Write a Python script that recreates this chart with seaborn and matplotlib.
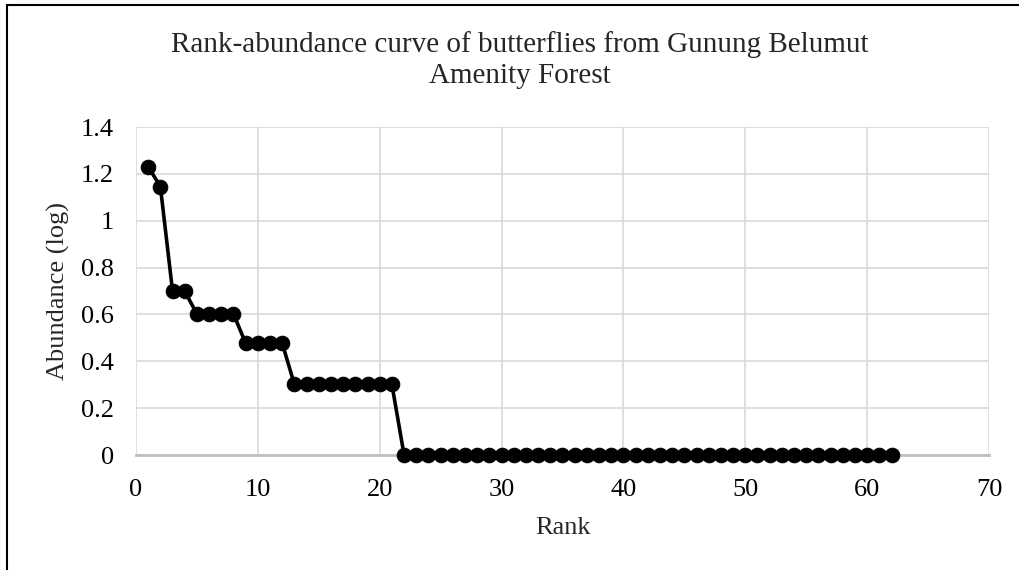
import matplotlib
matplotlib.use("Agg")
import matplotlib.pyplot as plt
from matplotlib.lines import Line2D
import seaborn as sns
import pandas as pd

# ==========================================
# data
# ==========================================
ranks = [1, 2, 3, 4, 5, 6, 7, 8, 9, 10,
         11, 12, 13, 14, 15, 16, 17, 18, 19, 20,
         21, 22, 23, 24, 25, 26, 27, 28, 29, 30,
         31, 32, 33, 34, 35, 36, 37, 38, 39, 40,
         41, 42, 43, 44, 45, 46, 47, 48, 49, 50,
         51, 52, 53, 54, 55, 56, 57, 58, 59, 60,
         61, 62]
abundance_log = [1.230, 1.146, 0.699, 0.699, 0.602, 0.602, 0.602, 0.602, 0.477, 0.477,
                 0.477, 0.477, 0.301, 0.301, 0.301, 0.301, 0.301, 0.301, 0.301, 0.301,
                 0.301, 0.0, 0.0, 0.0, 0.0, 0.0, 0.0, 0.0, 0.0, 0.0,
                 0.0, 0.0, 0.0, 0.0, 0.0, 0.0, 0.0, 0.0, 0.0, 0.0,
                 0.0, 0.0, 0.0, 0.0, 0.0, 0.0, 0.0, 0.0, 0.0, 0.0,
                 0.0, 0.0, 0.0, 0.0, 0.0, 0.0, 0.0, 0.0, 0.0, 0.0,
                 0.0, 0.0]

x_ticks = [0, 10, 20, 30, 40, 50, 60, 70]
y_ticks = [0, 0.2, 0.4, 0.6, 0.8, 1.0, 1.2, 1.4]
y_tick_labels = ["0", "0.2", "0.4", "0.6", "0.8", "1", "1.2", "1.4"]

TITLE = "Rank-abundance curve of butterflies from Gunung Belumut\nAmenity Forest"

df = pd.DataFrame({"Rank": ranks, "Abundance": abundance_log})

# ==========================================
# style
# ==========================================
sns.set_style("whitegrid")
plt.rcParams["font.family"] = ["Liberation Serif", "DejaVu Serif"]

GRID = "#d9d9d9"
AXIS = "#bfbfbf"

fig = plt.figure(figsize=(10.2, 5.7), dpi=100)
ax = fig.add_axes([136 / 1020, 1 - 455 / 570, (989 - 136) / 1020, (455 - 127) / 570])

sns.lineplot(data=df, x="Rank", y="Abundance", ax=ax, color="black",
             linewidth=2.6, marker="o", markersize=10.5, markeredgecolor="black",
             markerfacecolor="black", clip_on=False, zorder=5)

ax.set_xlim(0, 70)
ax.set_ylim(0, 1.4)
ax.set_xticks(x_ticks)
ax.set_yticks(y_ticks)
ax.set_yticklabels(y_tick_labels)

ax.grid(True, color=GRID, linewidth=1.2)
for side in ["top", "right", "left"]:
    ax.spines[side].set_visible(False)
ax.spines["bottom"].set_color(AXIS)
ax.spines["bottom"].set_linewidth(2.0)
ax.spines["bottom"].set_zorder(3)

ax.tick_params(axis="both", length=0, labelsize=19, colors="black")
ax.tick_params(axis="x", pad=17)
ax.tick_params(axis="y", pad=16)

ax.set_xlabel("Rank", fontsize=19, labelpad=12)
ax.set_ylabel("Abundance (log)", fontsize=19, labelpad=8)

fig.text(0.51, 1 - 60 / 570, TITLE, ha="center", va="center",
         fontsize=21, linespacing=1.25)

# partial outer frame (top and left) like the source screenshot
fig.add_artist(Line2D([7 / 1020, 1.0], [1 - 5 / 570, 1 - 5 / 570],
                      transform=fig.transFigure, color="black", linewidth=1.5))
fig.add_artist(Line2D([7 / 1020, 7 / 1020], [0.0, 1 - 5 / 570],
                      transform=fig.transFigure, color="black", linewidth=1.5))

fig.savefig("out.png", dpi=100)
